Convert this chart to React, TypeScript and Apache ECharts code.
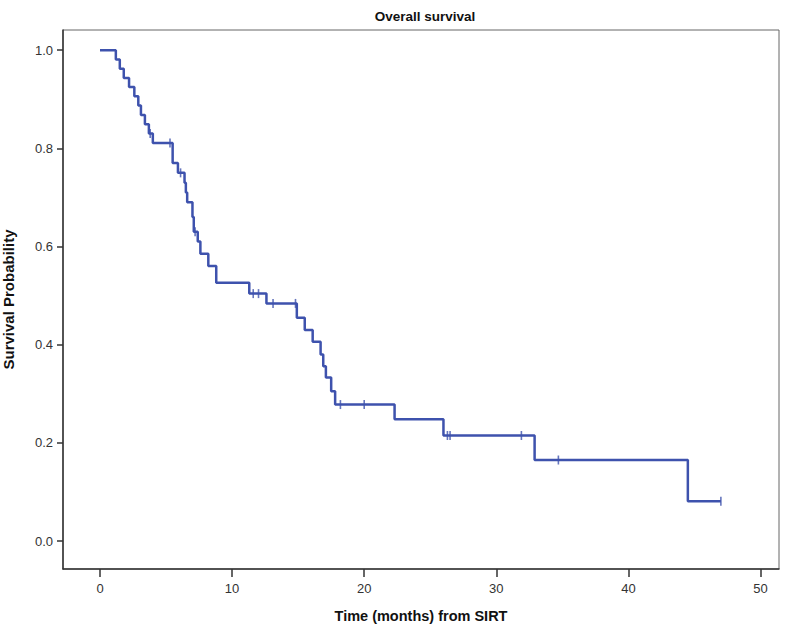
import React, { useEffect, useRef } from "react";
import * as echarts from "echarts";

const titleText = "Overall survival";
const xAxisTitle = "Time (months) from SIRT";
const yAxisTitle = "Survival Probability";

const xTicks = [0, 10, 20, 30, 40, 50];
const yTicks = [0, 0.2, 0.4, 0.6, 0.8, 1.0];

// Kaplan-Meier step points: time (months) and survival after the event at that time
const stepTimes = [0, 1.2, 1.5, 1.8, 2.2, 2.6, 2.9, 3.1, 3.4, 3.7, 4.0, 5.5, 5.9, 6.4, 6.5, 6.6, 7.0, 7.1, 7.4, 7.6, 8.2, 8.8, 11.3, 12.6, 14.9, 15.5, 16.1, 16.7, 16.9, 17.1, 17.5, 17.8, 22.3, 26.0, 32.9, 44.5, 47.0];
const stepSurv = [1.0, 0.981, 0.962, 0.943, 0.925, 0.906, 0.887, 0.868, 0.849, 0.83, 0.811, 0.77, 0.75, 0.73, 0.71, 0.69, 0.66, 0.63, 0.61, 0.585, 0.56, 0.526, 0.504, 0.484, 0.455, 0.43, 0.406, 0.38, 0.356, 0.333, 0.305, 0.278, 0.248, 0.215, 0.165, 0.081, 0.081];

// Censored observations
const censorTimes = [3.8, 5.3, 6.1, 7.2, 11.6, 12.0, 13.1, 14.8, 18.2, 20.0, 26.3, 26.5, 31.9, 34.7, 47.0];
const censorSurv = [0.83, 0.811, 0.75, 0.63, 0.504, 0.504, 0.484, 0.484, 0.278, 0.278, 0.215, 0.215, 0.215, 0.165, 0.081];

const LINE = "#3e52ad";
const FONT = "'Liberation Sans Narrow', 'Liberation Sans', Arial, sans-serif";

export default function App() {
  const ref = useRef<HTMLDivElement>(null);
  useEffect(() => {
    if (!ref.current) return;
    const chart = echarts.init(ref.current, undefined, { renderer: "svg" });
    const stepData = stepTimes.map((t, i) => [t, stepSurv[i]]);
    const censorData = censorTimes.map((t, i) => [t, censorSurv[i]]);
    chart.setOption({
      animation: false,
      backgroundColor: "#ffffff",
      title: {
        text: titleText,
        left: 420,
        top: 4,
        textAlign: "center",
        textStyle: { fontFamily: FONT, fontSize: 13.5, fontWeight: "bold", color: "#111" },
      },
      grid: {
        left: 63,
        right: 21,
        top: 30,
        bottom: 59,
        outerBoundsMode: "none",
        containLabel: false,
        show: true,
        borderColor: "#666",
        borderWidth: 1,
        backgroundColor: "#fff",
      },
      xAxis: {
        type: "value",
        min: -2.8,
        max: 51.4,
        name: xAxisTitle,
        nameLocation: "middle",
        nameGap: 39,
        nameTextStyle: { fontFamily: FONT, fontSize: 14.5, fontWeight: "bold", color: "#111" },
        splitLine: { show: false },
        axisLine: { show: true, onZero: false, lineStyle: { color: "#333", width: 1.5 } },
        axisTick: { show: true, customValues: xTicks, length: 8, lineStyle: { color: "#333", width: 1.5 } },
        axisLabel: {
          customValues: xTicks,
          fontFamily: FONT,
          fontSize: 13,
          color: "#333",
          margin: 13,
        },
      },
      yAxis: {
        type: "value",
        min: -0.057,
        max: 1.041,
        name: yAxisTitle,
        nameLocation: "middle",
        nameGap: 47,
        nameRotate: 90,
        nameTextStyle: { fontFamily: FONT, fontSize: 15, fontWeight: "bold", color: "#111" },
        splitLine: { show: false },
        axisLine: { show: true, onZero: false, lineStyle: { color: "#333", width: 1.5 } },
        axisTick: { show: true, customValues: yTicks, length: 6, lineStyle: { color: "#333", width: 1.5 } },
        axisLabel: {
          customValues: yTicks,
          fontFamily: FONT,
          fontSize: 13,
          color: "#333",
          margin: 10,
          formatter: (v: number) => v.toFixed(1),
        },
      },
      series: [
        {
          type: "line",
          step: "end",
          data: stepData,
          showSymbol: false,
          symbol: "none",
          lineStyle: { color: LINE, width: 2.5 },
          z: 2,
        },
        {
          type: "scatter",
          data: censorData,
          symbol: "rect",
          symbolSize: [1.6, 9],
          itemStyle: { color: LINE },
          z: 3,
        },
      ],
    });
    return () => chart.dispose();
  }, []);
  return (
    <div
      ref={ref}
      style={{ position: "fixed", left: 0, top: 0, width: 800, height: 628, background: "#fff" }}
    />
  );
}
